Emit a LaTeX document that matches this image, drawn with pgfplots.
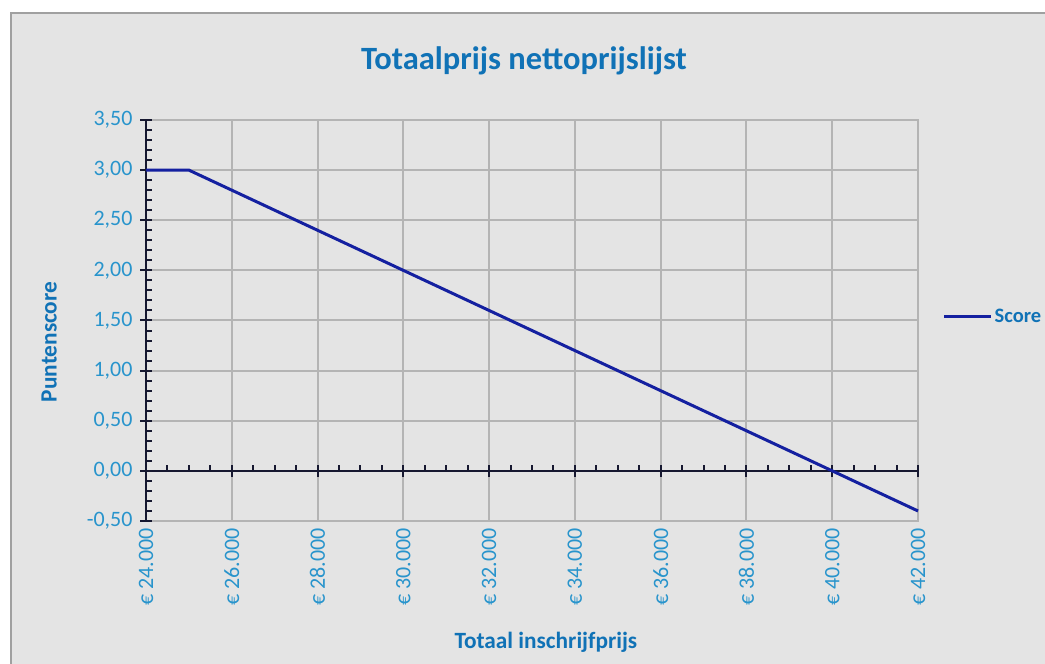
\documentclass[border=0pt]{standalone}
\usepackage{fontspec}
\setmainfont{Carlito}
\usepackage{pgfplots}
\pgfplotsset{compat=1.18}
\definecolor{bg}{RGB}{228,228,228}
\definecolor{framec}{RGB}{160,160,160}
\definecolor{gridc}{RGB}{180,180,180}
\definecolor{axc}{RGB}{22,24,48}
\definecolor{linec}{RGB}{20,32,160}
\definecolor{tickc}{RGB}{40,148,204}
\definecolor{titlec}{RGB}{16,114,182}
\pgfplotsset{
  common/.style={
    at={(146bp,143bp)}, anchor=south west, scale only axis,
    width=772bp, height=401bp,
    xmin=24000, xmax=42000, ymin=-0.5, ymax=3.5,
    xtick={24000,26000,28000,30000,32000,34000,36000,38000,40000,42000},
    ytick={-0.5,0,0.5,1,1.5,2,2.5,3,3.5},
    scaled x ticks=false, scaled y ticks=false,
    clip=false,
  }
}
\begin{document}
\begin{tikzpicture}
\useasboundingbox (0,0) rectangle (1045bp,664bp);
\fill[bg] (11bp,0) rectangle (1045bp,651bp);
\draw[framec, line width=2bp] (11bp,0) -- (11bp,651bp) -- (1045bp,651bp);
\node[anchor=base, font=\bfseries\fontsize{32.5bp}{38bp}\selectfont, text=titlec] at (524bp,594bp) {Totaalprijs nettoprijslijst};

% base axis: grid, frame, tick labels, axis titles
\begin{axis}[common,
  axis line style={gridc, line width=2bp},
  grid=major, major grid style={gridc, line width=2bp},
  major tick length=0pt, minor tick num=0,
  tick label style={font=\fontsize{22bp}{26bp}\selectfont, text=tickc},
  /pgf/number format/assume math mode=true,
  yticklabel style={/pgf/number format/.cd, use comma, fixed, fixed zerofill, precision=2},
  yticklabel shift=10bp,
  xticklabel={€~\pgfmathprintnumber[fixed, precision=0, 1000 sep={.}]{\tick}},
  xticklabel style={rotate=90, anchor=east},
  xticklabel shift=4bp,
  ylabel={Puntenscore},
  every axis y label/.style={at={(axis description cs:-0.1256,0.4464)}, rotate=90, anchor=center, font=\bfseries\fontsize{23.3bp}{27bp}\selectfont, text=titlec},
  xlabel={Totaal inschrijfprijs},
  every axis x label/.style={at={(axis description cs:0.518,-0.319)}, anchor=base, font=\bfseries\fontsize{23.3bp}{27bp}\selectfont, text=titlec},
]
\end{axis}

% minor ticks
\begin{axis}[common,
  axis x line=middle, axis y line=left,
  axis line style={draw=none},
  xticklabels={}, yticklabels={},
  major tick length=0pt, minor tick length=6bp,
  minor x tick num=3, minor y tick num=4,
  tick align=inside,
  tick style={axc, line width=2bp},
  hide obscured x ticks=false, hide obscured y ticks=false,
]
\end{axis}

% axis lines, major ticks, data
\begin{axis}[common,
  axis x line=middle, axis y line=left,
  axis line style={axc, line width=2.5bp, -},
  every inner x axis line/.append style={-},
  every outer y axis line/.append style={-},
  xticklabels={}, yticklabels={},
  minor tick num=0, major tick length=12bp, tick align=center,
  tick style={axc, line width=2bp},
  hide obscured x ticks=false, hide obscured y ticks=false,
  legend style={at={(axis description cs:1.032,0.509)}, anchor=west, draw=none, fill=none, inner sep=0pt, outer sep=0pt,
    font=\bfseries\fontsize{20.5bp}{24bp}\selectfont, text=titlec},
  legend image code/.code={\draw[#1] (0bp,0bp) -- (47bp,0bp);},
]
\addplot[linec, line width=3bp] coordinates {(24000,3) (25000,3) (42000,-0.4)};
\addlegendentry{Score}
\end{axis}
\end{tikzpicture}
\end{document}
